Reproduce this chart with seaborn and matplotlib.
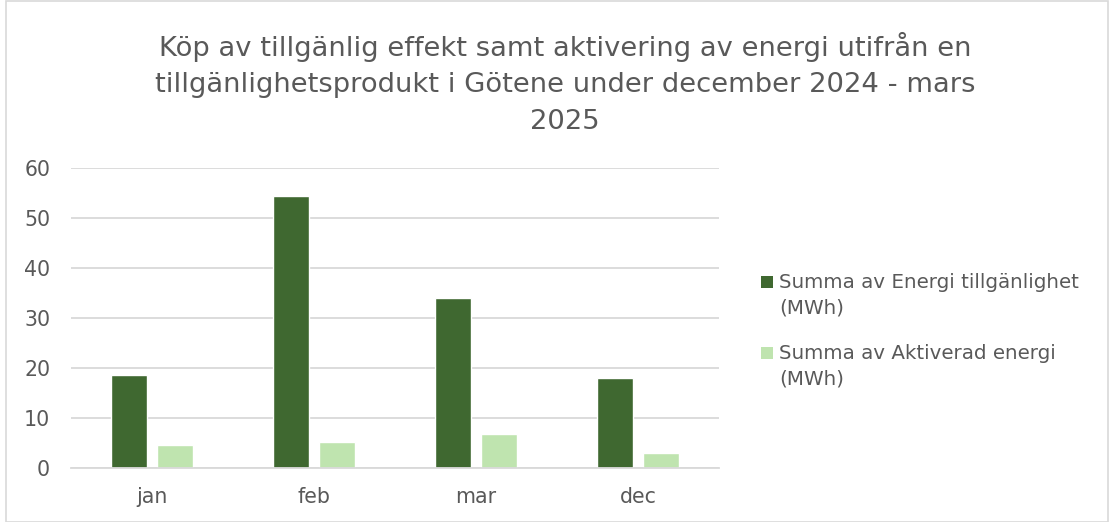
import matplotlib
matplotlib.use("Agg")
import matplotlib.pyplot as plt
import seaborn as sns
import pandas as pd
from matplotlib.patches import Rectangle, Patch
from matplotlib.legend_handler import HandlerPatch

months = ["jan", "feb", "mar", "dec"]
energi_tillganlighet = [18.6, 54.3, 34.0, 17.9]
aktiverad_energi = [4.5, 5.1, 6.8, 3.0]
series_names = ["Summa av Energi tillgänlighet (MWh)", "Summa av Aktiverad energi (MWh)"]
legend_labels = ["Summa av Energi tillgänlighet\n(MWh)", "Summa av Aktiverad energi\n(MWh)"]
colors = ["#3F6830", "#BFE4AF"]
yticks = [0, 10, 20, 30, 40, 50, 60]
title = ("Köp av tillgänlig effekt samt aktivering av energi utifrån en\n"
         "tillgänlighetsprodukt i Götene under december 2024 - mars\n2025")

df = pd.DataFrame({
    "month": months * 2,
    "value": energi_tillganlighet + aktiverad_energi,
    "series": [series_names[0]] * 4 + [series_names[1]] * 4,
})

sns.set_theme(style="white")
plt.rcParams["font.family"] = ["DejaVu Sans"]

TXT = "#595959"
W, H = 1109, 522
fig = plt.figure(figsize=(W / 100, H / 100), dpi=100)
ax = fig.add_axes([71 / W, (H - 467.5) / H, (719 - 71) / W, (467.5 - 167.5) / H])

sns.barplot(data=df, x="month", y="value", hue="series", order=months,
            hue_order=series_names, palette=colors, width=0.568, gap=0.217,
            ax=ax, legend=False, saturation=1)

ax.set_ylim(0, 60)
ax.set_xlim(-0.5, 3.5)
ax.set_yticks(yticks)
ax.set_yticklabels([str(t) for t in yticks])
ax.yaxis.grid(True, color="#D9D9D9", linewidth=1.3)
ax.set_axisbelow(True)
for s in ["top", "right", "left"]:
    ax.spines[s].set_visible(False)
ax.spines["bottom"].set_color("#D9D9D9")
ax.spines["bottom"].set_linewidth(1.3)
ax.set_xlabel("")
ax.set_ylabel("")
ax.tick_params(axis="both", length=0, labelsize=14.8, colors=TXT)
ax.tick_params(axis="y", pad=15)
ax.tick_params(axis="x", pad=14)

fig.text(565 / W, 1 - 32 / H, title, ha="center", va="top", fontsize=19.7,
         color=TXT, linespacing=1.52)


def first_line_square(legend, orig_handle, xdescent, ydescent, width, height, fontsize):
    return Rectangle((-xdescent, -ydescent + 9.8), width, height)


handles = [Patch(facecolor=c, edgecolor="none") for c in colors]
leg = fig.legend(handles, legend_labels, loc="upper left",
                 bbox_to_anchor=(761 / W, 1 - 273 / H), frameon=False,
                 fontsize=14.3, labelcolor=TXT, handlelength=0.58,
                 handleheight=0.58, handletextpad=0.33, labelspacing=1.35,
                 borderpad=0, borderaxespad=0,
                 handler_map={Patch: HandlerPatch(patch_func=first_line_square)})
for t in leg.get_texts():
    t.set_linespacing(1.42)

fig.patches.append(Rectangle((6 / W, 0), (W - 7) / W, 1 - 1 / H, transform=fig.transFigure,
                             fill=False, edgecolor="#D9D9D9", linewidth=1.2))

fig.savefig("out.png", dpi=100)
